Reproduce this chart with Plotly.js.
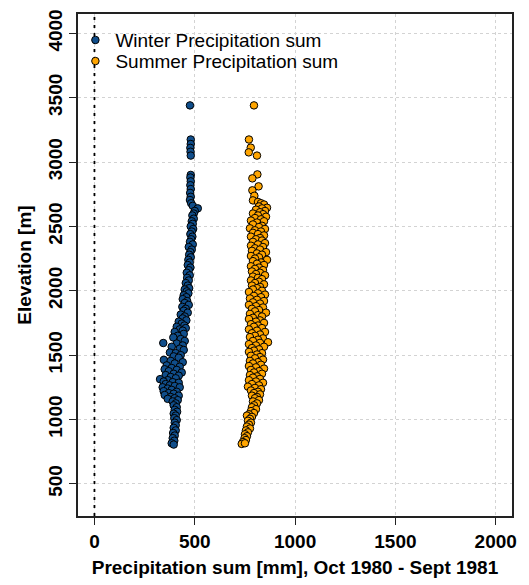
<!DOCTYPE html>
<html>
<head>
<meta charset="utf-8">
<script src="https://cdn.plot.ly/plotly-3.0.1.min.js"></script>
<style>html,body{margin:0;padding:0;background:#fff;}#chart{width:529px;height:585px;}</style>
</head>
<body>
<div id="chart"></div>
<script>
// ---- Data ----
var seriesNames = ["Winter Precipitation sum", "Summer Precipitation sum"];
var xTickVals = [0, 500, 1000, 1500, 2000];
var yTickVals = [500, 1000, 1500, 2000, 2500, 3000, 3500, 4000];
var xTitle = "Precipitation sum [mm], Oct 1980 - Sept 1981";
var yTitle = "Elevation [m]";

var winterPrecip = [476,480,480,478,479,480,480,478,480,478,480,477,480,476,482,
490,515,500,495,488,495,485,490,480,492,485,478,488,482,476,490,470,485,478,472,480,468,475,465,478,470,460,475,462,470,455,465,472,450,460,468,445,458,440,462,450,470,438,455,445,465,430,450,440,458,420,435,448,410,455,425,440,400,445,415,393,430,450,343,410,440,385,425,445,376,405,430,395,420,346,380,440,400,360,425,385,350,410,370,435,395,355,420,380,327,405,365,345,390,420,355,375,400,340,425,365,385,345,410,370,395,350,420,380,400,365,415,390,405,395,410,400,412,395,405,398,410,400,405,395,405,392,400,390,398,385,395];
var winterElev = [3440,3175,3140,3110,3080,3050,2900,2880,2850,2820,2790,2760,2730,2705,2680,
2660,2640,2620,2600,2585,2560,2540,2520,2500,2480,2460,2440,2420,2400,2380,2360,2340,2320,2300,2280,2260,2240,2220,2200,2180,2160,2140,2120,2100,2080,2060,2040,2020,2010,1995,1980,1965,1950,1935,1920,1905,1890,1875,1860,1845,1830,1815,1800,1785,1770,1760,1745,1730,1720,1710,1700,1690,1680,1665,1650,1637,1625,1610,1594,1590,1575,1565,1550,1540,1520,1515,1500,1490,1480,1463,1455,1445,1435,1420,1410,1400,1390,1385,1375,1365,1355,1345,1340,1330,1313,1320,1305,1295,1290,1285,1275,1265,1260,1250,1250,1240,1230,1220,1215,1205,1200,1190,1185,1175,1165,1160,1150,1140,1125,1110,1095,1075,1060,1045,1030,1010,995,975,955,935,915,895,875,855,835,815,805];

var summerPrecip = [795,770,779,769,810,812,787,818,787,797,790,
815,830,845,820,860,835,805,850,825,790,840,815,855,800,830,780,845,810,790,835,820,775,850,800,830,790,815,845,780,825,805,835,790,850,815,780,840,800,825,785,855,810,835,780,820,800,860,790,830,810,845,780,820,800,840,785,825,805,850,790,815,835,780,820,800,845,785,825,810,790,835,770,815,850,795,830,775,810,845,790,825,770,805,840,785,820,800,855,775,815,835,790,770,825,805,845,780,815,795,835,770,810,850,785,825,800,775,840,815,865,790,825,770,805,845,785,820,795,770,835,810,780,825,800,840,775,815,790,830,770,805,845,780,820,795,835,775,810,790,825,770,805,840,785,820,765,800,830,780,815,795,825,785,810,800,820,790,810,795,785,805,780,795,770,760,785,775,765,780,770,760,775,755,765,750,760,748,755,740,734,750];
var summerElev = [3440,3175,3112,3075,3050,2904,2873,2811,2780,2738,2702,
2690,2680,2670,2655,2645,2640,2630,2620,2610,2600,2595,2585,2575,2565,2555,2545,2540,2530,2515,2505,2495,2485,2480,2470,2460,2450,2440,2430,2420,2410,2400,2390,2380,2370,2360,2350,2340,2330,2320,2310,2300,2290,2280,2270,2260,2250,2240,2230,2220,2210,2200,2190,2180,2170,2160,2150,2140,2130,2120,2110,2100,2090,2080,2070,2060,2050,2040,2030,2020,2010,2000,1990,1980,1970,1960,1950,1940,1930,1920,1910,1900,1890,1880,1870,1860,1850,1840,1830,1820,1810,1800,1790,1780,1770,1760,1750,1740,1730,1720,1710,1700,1690,1680,1670,1660,1650,1640,1630,1620,1600,1610,1595,1585,1575,1565,1555,1545,1535,1525,1515,1505,1495,1485,1475,1465,1455,1445,1435,1425,1415,1405,1395,1385,1375,1365,1355,1345,1335,1325,1315,1305,1295,1285,1275,1265,1255,1245,1235,1225,1215,1205,1195,1185,1175,1165,1150,1140,1125,1110,1095,1080,1065,1050,1040,1030,1020,1005,990,975,960,945,930,915,900,885,870,855,840,825,810,815];

var seriesColors = ["#104E8B", "#FFA500"];

// ---- Chart ----
var FONT = "Liberation Sans, Arial, sans-serif";
function mk(x, y, i, leg) {
  return {
    type: "scatter", mode: "markers", x: x, y: y, name: seriesNames[i],
    legend: leg, cliponaxis: false,
    marker: {symbol: "circle", size: 7.5, color: seriesColors[i], line: {color: "#000", width: 1}}
  };
}
var traces = [mk(winterPrecip, winterElev, 0, "legend"), mk(summerPrecip, summerElev, 1, "legend2")];

var axisCommon = {
  showline: true, mirror: true, linecolor: "#222", linewidth: 1.8,
  ticks: "outside", ticklen: 7, tickwidth: 1, tickcolor: "#222",
  showgrid: true, gridcolor: "#d3d3d3", gridwidth: 1, griddash: "3px,3px",
  zeroline: false, tickmode: "array",
  tickfont: {family: FONT, size: 19, color: "#000", weight: "bold"}
};

var legendCommon = {
  font: {family: FONT, size: 19, color: "#000"},
  bgcolor: "rgba(0,0,0,0)", borderwidth: 0,
  xanchor: "left", yanchor: "middle", itemclick: false
};

var layout = {
  width: 529, height: 585,
  margin: {l: 78, r: 17, t: 14, b: 69, pad: 0},
  paper_bgcolor: "#fff", plot_bgcolor: "#fff",
  font: {family: FONT, color: "#000"},
  showlegend: true,
  xaxis: Object.assign({}, axisCommon, {
    range: [-82, 2081], tickvals: xTickVals,
    title: {text: xTitle, font: {family: FONT, size: 19, color: "#000", weight: "bold"}, standoff: 10}
  }),
  yaxis: Object.assign({}, axisCommon, {
    range: [250, 4150], tickvals: yTickVals, tickangle: -90,
    title: {text: yTitle, font: {family: FONT, size: 19, color: "#000", weight: "bold"}, standoff: 8}
  }),
  legend: Object.assign({}, legendCommon, {x: -0.006, y: 0.948}),
  legend2: Object.assign({}, legendCommon, {x: -0.006, y: 0.906}),
  shapes: [{
    type: "line", xref: "x", yref: "paper", x0: 0, x1: 0, y0: 0, y1: 1,
    layer: "above", line: {color: "#000", width: 1.8, dash: "3px,5px"}
  }]
};

Plotly.newPlot("chart", traces, layout, {staticPlot: true, displayModeBar: false});
</script>
</body>
</html>
